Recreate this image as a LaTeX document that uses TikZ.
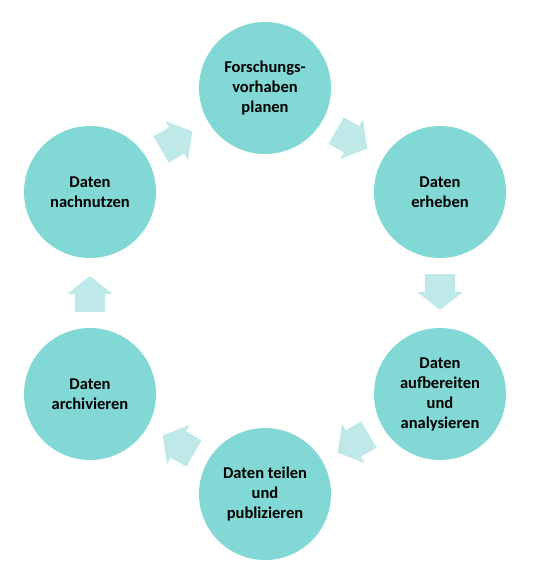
\documentclass[tikz,border=0pt]{standalone}
\usepackage{fontspec}
\setmainfont{Carlito}
\usetikzlibrary{shapes.arrows, calc}

\definecolor{stepteal}{RGB}{130,216,212}
\definecolor{arrowteal}{RGB}{190,233,232}

\tikzset{
  phase/.style={circle, fill=stepteal, minimum size=132pt, inner sep=0pt,
    align=center, font=\fontsize{16.5}{20}\selectfont\bfseries},
  flow/.style={single arrow, fill=arrowteal, minimum height=36pt,
    inner xsep=0pt, inner ysep=15pt, single arrow head extend=7.5pt,
    single arrow tip angle=103, font=\fontsize{1}{1}\selectfont}
}

\begin{document}
\begin{tikzpicture}[x=1pt, y=-1pt]
\useasboundingbox (0,0) rectangle (541,587);

% Phasen
\node[phase] (plan)    at (265,88)  {Forschungs-\\vorhaben\\planen};
\node[phase] (erheben) at (440,192) {Daten\\erheben};
\node[phase] (analyse) at (440,394) {Daten\\aufbereiten\\und\\analysieren};
\node[phase] (teilen)  at (265,494) {Daten teilen\\und\\publizieren};
\node[phase] (archiv)  at (90,394)  {Daten\\archivieren};
\node[phase] (nutzen)  at (90,192)  {Daten\\nachnutzen};

% Pfeile
\node[flow, rotate=-30] (f1) at ($($(plan)!0.5!(erheben)$)!7pt!(plan)$) {};
\node[flow, rotate=-90] (f2) at ($($(erheben)!0.5!(analyse)$)!7pt!(erheben)$) {};
\node[flow, rotate=210] (f3) at ($($(analyse)!0.5!(teilen)$)!7pt!(analyse)$) {};
\node[flow, rotate=150] (f4) at ($($(teilen)!0.5!(archiv)$)!7pt!(teilen)$) {};
\node[flow, rotate=90]  (f5) at ($($(archiv)!0.5!(nutzen)$)!7pt!(archiv)$) {};
\node[flow, rotate=30]  (f6) at ($($(nutzen)!0.5!(plan)$)!7pt!(nutzen)$) {};
\end{tikzpicture}
\end{document}
